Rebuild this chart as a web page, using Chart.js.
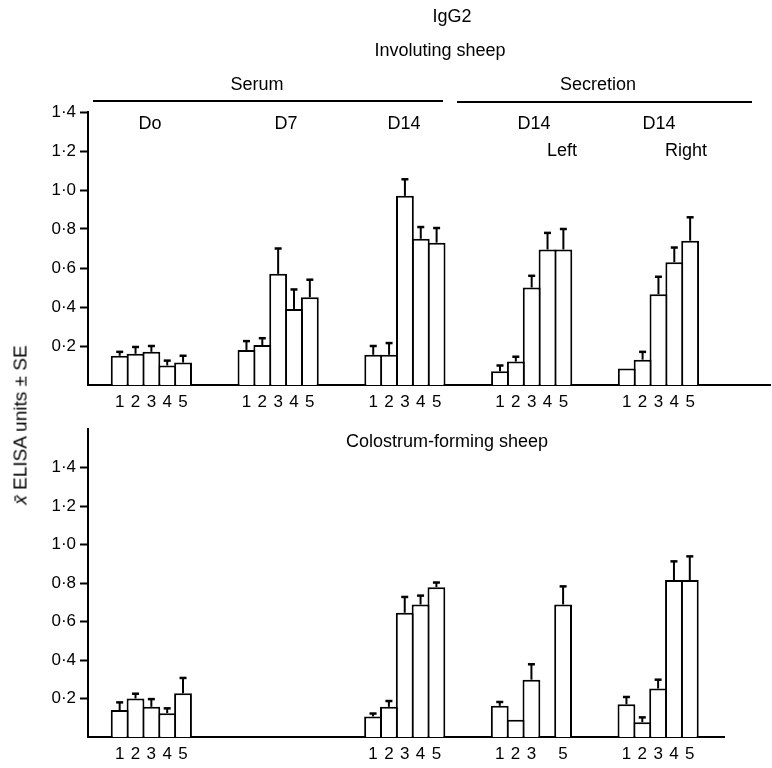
<!DOCTYPE html>
<html><head><meta charset="utf-8">
<script src="https://cdn.jsdelivr.net/npm/chart.js@4/dist/chart.umd.min.js"></script>
<style>
html,body{margin:0;padding:0;background:#fff;width:772px;height:768px;overflow:hidden;font-family:"Liberation Sans",Arial,sans-serif;color:#000}
#wrap{position:relative;width:772px;height:768px}
canvas{position:absolute;left:0}
.t{position:absolute;transform:translate(-50%,-50%);white-space:nowrap;font-size:18px;line-height:1}
.rule{position:absolute;height:2px;background:#000}
.ytitle{position:absolute;left:20px;top:425px;transform:translate(-50%,-50%) rotate(-90deg);white-space:nowrap;font-size:19px;line-height:1;color:#000}
</style></head><body>
<div id="wrap">
<canvas id="topChart" width="772" height="415" style="top:0"></canvas>
<canvas id="bottomChart" width="772" height="353" style="top:415px"></canvas>
<div class="t" style="left:452px;top:16px">IgG2</div>
<div class="t" style="left:440px;top:50px">Involuting sheep</div>
<div class="t" style="left:257px;top:84px">Serum</div>
<div class="t" style="left:598px;top:84px">Secretion</div>
<div class="rule" style="left:93px;width:350px;top:100px"></div>
<div class="rule" style="left:457px;width:295px;top:101px"></div>
<div class="t" style="left:150px;top:123px">Do</div>
<div class="t" style="left:286px;top:123px">D7</div>
<div class="t" style="left:404px;top:123px">D14</div>
<div class="t" style="left:534px;top:123px">D14</div>
<div class="t" style="left:562px;top:150px">Left</div>
<div class="t" style="left:659px;top:123px">D14</div>
<div class="t" style="left:686px;top:150px">Right</div>
<div class="t" style="left:447px;top:441px">Colostrum-forming sheep</div>
<div class="ytitle"><i>x&#772;</i> ELISA units ± SE</div>
</div>
<script>
const groupLabels = ['Do', 'D7', 'D14', 'D14 Left', 'D14 Right'];
const barNumbers = ['1', '2', '3', '4', '5'];
const yTickValues = [0.2, 0.4, 0.6, 0.8, 1.0, 1.2, 1.4];

// rows = groups (Do, D7, D14, D14 Left, D14 Right); columns = bars 1..5
const involutingMeans = [
  [0.15, 0.16, 0.17, 0.10, 0.115],
  [0.18, 0.205, 0.57, 0.39, 0.45],
  [0.155, 0.155, 0.97, 0.75, 0.73],
  [0.07, 0.12, 0.50, 0.695, 0.695],
  [0.085, 0.13, 0.465, 0.63, 0.74]
];
const involutingSE = [
  [0.02, 0.035, 0.03, 0.025, 0.035],
  [0.045, 0.035, 0.13, 0.10, 0.09],
  [0.045, 0.06, 0.085, 0.06, 0.075],
  [0.03, 0.025, 0.06, 0.085, 0.105],
  [null, 0.04, 0.09, 0.075, 0.12]
];
const colostrumMeans = [
  [0.14, 0.20, 0.157, 0.124, 0.227],
  [null, null, null, null, null],
  [0.107, 0.157, 0.646, 0.689, 0.779],
  [0.162, 0.09, 0.298, null, 0.689],
  [0.17, 0.077, 0.252, 0.816, 0.816]
];
const colostrumSE = [
  [0.04, 0.025, 0.04, 0.025, 0.08],
  [null, null, null, null, null],
  [0.015, 0.03, 0.082, 0.046, 0.024],
  [0.02, null, 0.08, null, 0.094],
  [0.038, 0.025, 0.046, 0.097, 0.123]
];

const INK = '#000';
const FONT = '"Liberation Sans", Arial, sans-serif';

const errorBarsAndNumbers = {
  id: 'errorBarsAndNumbers',
  afterDatasetsDraw(chart) {
    const ctx = chart.ctx;
    const y = chart.scales.y;
    ctx.save();
    ctx.strokeStyle = INK;
    ctx.lineWidth = 2;
    ctx.fillStyle = INK;
    ctx.font = '17px ' + FONT;
    ctx.textAlign = 'center';
    ctx.textBaseline = 'middle';
    chart.data.datasets.forEach((ds, di) => {
      const meta = chart.getDatasetMeta(di);
      meta.data.forEach((bar, i) => {
        const p = ds.data[i];
        if (p.se != null) {
          const yTop = y.getPixelForValue(p.y + p.se);
          ctx.beginPath();
          ctx.moveTo(bar.x, bar.y);
          ctx.lineTo(bar.x, yTop);
          ctx.stroke();
          ctx.save();
          ctx.lineWidth = 2.5;
          ctx.beginPath();
          ctx.moveTo(bar.x - 3.5, yTop);
          ctx.lineTo(bar.x + 3.5, yTop);
          ctx.stroke();
          ctx.restore();
        }
        ctx.fillText(barNumbers[di], bar.x, chart.chartArea.bottom + 17);
      });
    });
    ctx.restore();
  }
};

function makePanel(id, means, se, yMax, xMax, padTop, padRight, xHeight) {
  const datasets = barNumbers.map((b, bi) => ({
    label: b,
    backgroundColor: '#fff',
    borderColor: INK,
    borderWidth: 2,
    borderSkipped: 'bottom',
    categoryPercentage: 0.625,
    barPercentage: 1.125,
    data: groupLabels
      .map((g, gi) => ({ x: gi, y: means[gi][bi], se: se[gi][bi] }))
      .filter(p => p.y != null)
  }));
  return new Chart(document.getElementById(id), {
    type: 'bar',
    data: { datasets },
    plugins: [errorBarsAndNumbers],
    options: {
      responsive: false,
      animation: false,
      devicePixelRatio: 1,
      layout: { padding: { top: padTop, right: padRight, left: 0, bottom: 0 } },
      plugins: { legend: { display: false }, tooltip: { enabled: false }, colors: { enabled: false } },
      scales: {
        x: {
          type: 'linear', min: -0.5, max: xMax, offset: false, bounds: 'data',
          afterBuildTicks: s => { s.ticks = groupLabels.map((g, i) => ({ value: i })); },
          afterFit: s => { s.height = xHeight; },
          ticks: { display: false },
          grid: { display: false, drawTicks: false },
          border: { display: true, color: INK, width: 2 }
        },
        y: {
          min: 0, max: yMax,
          afterBuildTicks: s => { s.ticks = yTickValues.map(v => ({ value: v })); },
          afterFit: s => { s.width = 88; },
          ticks: {
            callback: v => Number(v).toFixed(1).replace('.', '·'),
            color: INK, font: { family: FONT, size: 17 }, padding: 4
          },
          grid: { drawOnChartArea: false, drawTicks: true, tickLength: 8, tickWidth: 2, tickColor: INK },
          border: { display: true, color: INK, width: 2 }
        }
      }
    }
  });
}

makePanel('topChart', involutingMeans, involutingSE, 1.4, 4.88, 112, 2, 30);
makePanel('bottomChart', colostrumMeans, colostrumSE, 1.6, 4.52, 10, 48, 31);
</script>
</body></html>
